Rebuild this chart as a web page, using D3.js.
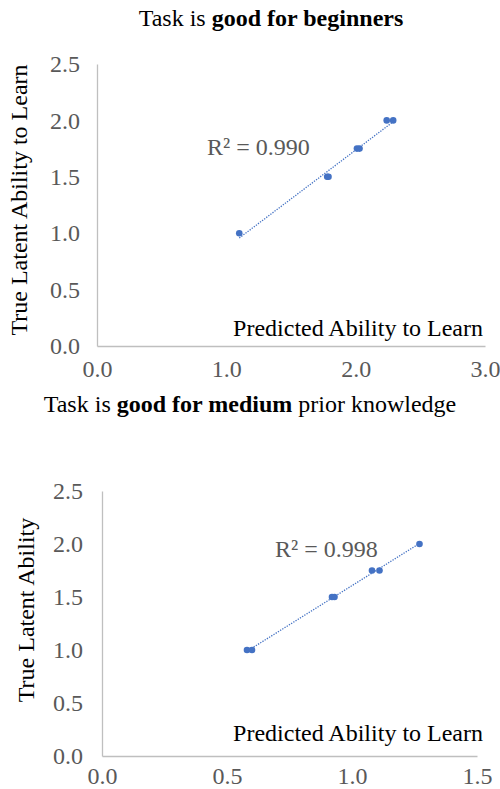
<!DOCTYPE html>
<html>
<head>
<meta charset="utf-8">
<script src="https://cdn.jsdelivr.net/npm/d3@7"></script>
<style>
  html, body { margin: 0; padding: 0; background: #fff; }
  svg { display: block; }
  svg text, svg tspan { font-family: "Liberation Serif", "Times New Roman", serif !important; }
</style>
</head>
<body>
<svg id="chart" width="500" height="789"></svg>
<script>
// ---- Data ----
const xTicksTop = [0, 1, 2, 3];
const yTicks = [0, 0.5, 1, 1.5, 2, 2.5];
const xTicksBottom = [0, 0.5, 1, 1.5];

const topX = [1.10, 1.78, 1.79, 2.01, 2.03, 2.24, 2.29];
const topY = [1.0, 1.5, 1.5, 1.75, 1.75, 2.0, 2.0];
const topR2 = "R² = 0.990";

const botX = [0.58, 0.60, 0.92, 0.93, 1.08, 1.11, 1.27];
const botY = [1.0, 1.0, 1.5, 1.5, 1.75, 1.75, 2.0];
const botR2 = "R² = 0.998";

const titleTopParts = [["Task is ", false], ["good for beginners", true]];
const titleBotParts = [["Task is ", false], ["good for medium", true], [" prior knowledge", false]];
const yTitleTop = "True Latent Ability to Learn";
const yTitleBot = "True Latent Ability";
const xTitle = "Predicted Ability to Learn";

// ---- Drawing ----
const svg = d3.select("#chart");
const FS = 24;
const FONT = '"Liberation Serif", "Times New Roman", serif';
const BLUE = "#4472C4";
const GREY = "#595959";
const AXIS = "#BFBFBF";

function regression(xs, ys) {
  const mx = d3.mean(xs), my = d3.mean(ys);
  let sxy = 0, sxx = 0;
  xs.forEach((x, i) => { sxy += (x - mx) * (ys[i] - my); sxx += (x - mx) * (x - mx); });
  const b = sxy / sxx;
  return { a: my - b * mx, b: b };
}

function drawPanel(cfg) {
  const g = svg.append("g").attr("font-family", FONT);
  const x = d3.scaleLinear().domain(cfg.xDomain).range(cfg.xRange);
  const y = d3.scaleLinear().domain([0, 2.5]).range(cfg.yRange);

  // title
  const t = g.append("text")
    .attr("x", cfg.titleX).attr("y", cfg.titleY)
    .attr("text-anchor", "middle")
    .style("font-family", FONT)
    .attr("font-size", FS).attr("fill", "#000");
  cfg.titleParts.forEach(p => {
    t.append("tspan").text(p[0]).attr("font-weight", p[1] ? "bold" : "normal");
  });

  // axes
  const ya = g.append("g")
    .attr("transform", `translate(${cfg.xRange[0]},0)`)
    .call(d3.axisLeft(y).tickValues(yTicks).tickFormat(d3.format(".1f")).tickSize(0).tickPadding(cfg.yPad));
  const xa = g.append("g")
    .attr("transform", `translate(0,${cfg.yRange[0]})`)
    .call(d3.axisBottom(x).tickValues(cfg.xTicks).tickFormat(d3.format(".1f")).tickSize(0).tickPadding(cfg.xPad));
  [ya, xa].forEach(a => {
    a.attr("font-family", FONT).attr("font-size", FS);
    a.select(".domain").attr("stroke", AXIS).attr("stroke-width", 1.3);
    a.selectAll("text").attr("fill", GREY).style("font-family", FONT).style("font-size", FS + "px");
  });

  // axis titles
  g.append("text")
    .attr("transform", `translate(${cfg.yTitleX},${cfg.yTitleY}) rotate(-90)`)
    .attr("text-anchor", "middle")
    .style("font-family", FONT)
    .attr("font-size", FS).attr("fill", "#000")
    .text(cfg.yTitle);
  g.append("text")
    .attr("x", cfg.xTitleX).attr("y", cfg.xTitleY)
    .attr("text-anchor", "end")
    .style("font-family", FONT)
    .attr("font-size", FS).attr("fill", "#000")
    .text(xTitle);

  // trendline
  const r = regression(cfg.xs, cfg.ys);
  const [x0, x1] = d3.extent(cfg.xs);
  g.append("line")
    .attr("x1", x(x0)).attr("y1", y(r.a + r.b * x0))
    .attr("x2", x(x1)).attr("y2", y(r.a + r.b * x1))
    .attr("stroke", BLUE).attr("stroke-width", 1.3)
    .attr("stroke-dasharray", "1.3 1.3");

  // points
  g.selectAll("circle.pt").data(cfg.xs.map((v, i) => [v, cfg.ys[i]]))
    .enter().append("circle").attr("class", "pt")
    .attr("cx", d => x(d[0])).attr("cy", d => y(d[1]))
    .attr("r", 3.3).attr("fill", BLUE);

  // R² label
  g.append("text")
    .attr("x", cfg.r2X).attr("y", cfg.r2Y)
    .style("font-family", FONT)
    .attr("font-size", FS).attr("fill", GREY)
    .text(cfg.r2);
}

drawPanel({
  xDomain: [0, 3], xRange: [97, 485], yRange: [346, 64], xTicks: xTicksTop,
  xs: topX, ys: topY, r2: topR2, r2X: 207, r2Y: 155,
  titleParts: titleTopParts, titleX: 271, titleY: 26,
  yTitle: yTitleTop, yTitleX: 27, yTitleY: 200,
  xTitleX: 483, xTitleY: 336, yPad: 17, xPad: 14
});

drawPanel({
  xDomain: [0, 1.5], xRange: [102, 477], yRange: [756, 491], xTicks: xTicksBottom,
  xs: botX, ys: botY, r2: botR2, r2X: 275, r2Y: 557,
  titleParts: titleBotParts, titleX: 250, titleY: 412,
  yTitle: yTitleBot, yTitleX: 34, yTitleY: 610,
  xTitleX: 483, xTitleY: 741, yPad: 19, xPad: 11
});
</script>
</body>
</html>
